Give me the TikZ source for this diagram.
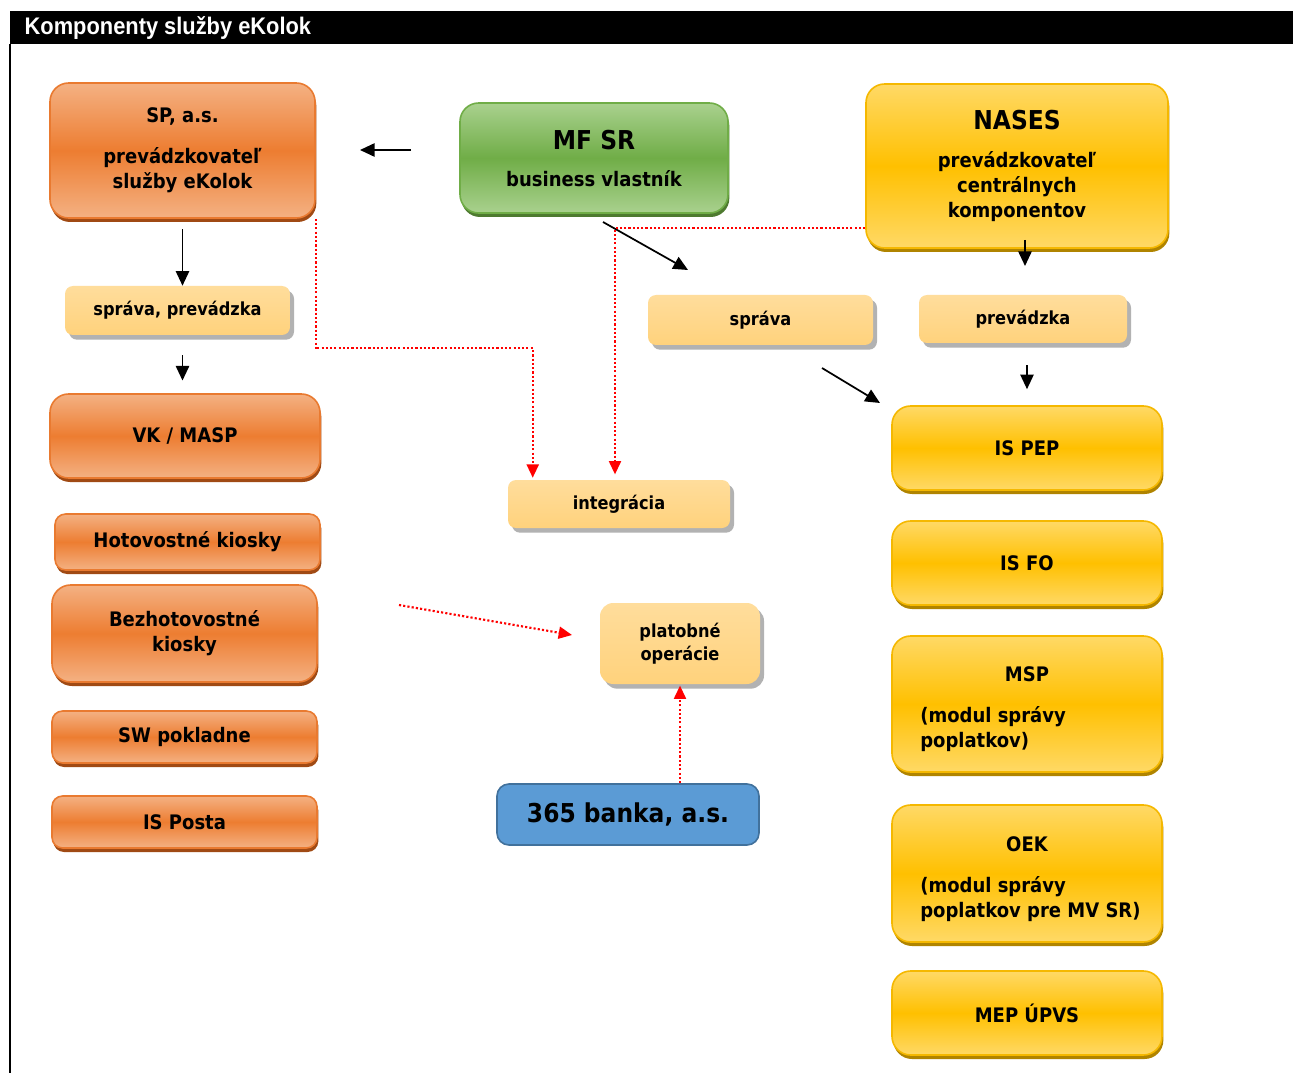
\documentclass[tikz,border=0pt]{standalone}
\usepackage{fontspec}
\setmainfont{DejaVu Sans}[FakeStretch=0.9]
\newfontfamily\headfont{Liberation Sans}[FakeStretch=0.91]
\usepackage{tikz}
\usetikzlibrary{positioning,shadows,arrows.meta}

\definecolor{ortop}{HTML}{F4B183}
\definecolor{ormid}{HTML}{ED7D31}
\definecolor{orline}{HTML}{E97A30}
\definecolor{orshade}{HTML}{A04A14}
\definecolor{yetop}{HTML}{FFD966}
\definecolor{yemid}{HTML}{FFC000}
\definecolor{yeline}{HTML}{F5B800}
\definecolor{yeshade}{HTML}{B08400}
\definecolor{grtop}{HTML}{A9D18E}
\definecolor{grmid}{HTML}{70AD47}
\definecolor{grshade}{HTML}{4E7A30}
\definecolor{lttop}{HTML}{FFDD9C}
\definecolor{ltbot}{HTML}{FFD27C}
\definecolor{bluefill}{HTML}{5B9BD5}
\definecolor{blueline}{HTML}{41719C}

\begin{document}
\begin{tikzpicture}[x=0.75pt,y=-0.75pt,
  font=\bfseries\fontsize{15}{18.75}\selectfont,
  bigbox/.style={rounded corners=14pt,line width=1.2pt,inner sep=0pt,align=center},
  orangebox/.style={bigbox,draw=orline,top color=ortop,bottom color=ortop,middle color=ormid,
    drop shadow={shadow xshift=1pt,shadow yshift=-3pt,fill=orshade,opacity=1}},
  yellowbox/.style={bigbox,draw=yeline,top color=yetop,bottom color=yetop,middle color=yemid,
    drop shadow={shadow xshift=1pt,shadow yshift=-3pt,fill=yeshade,opacity=1}},
  greenbox/.style={bigbox,draw=grmid,top color=grtop,bottom color=grtop,middle color=grmid,
    drop shadow={shadow xshift=1pt,shadow yshift=-3pt,fill=grshade,opacity=1}},
  lightbox/.style={rounded corners=6pt,inner sep=0pt,align=center,top color=lttop,bottom color=ltbot,
    font=\bfseries\fontsize{13.5}{17}\selectfont,
    drop shadow={shadow xshift=3pt,shadow yshift=-3.5pt,fill=black!30,opacity=1}},
  bigtext/.style={font=\bfseries\fontsize{19.5}{22}\selectfont},
  blackarrow/.style={line width=1.3pt,-{Triangle[length=11pt,width=10pt]}},
  reddots/.style={red,line width=1.6pt,dash pattern=on 1.6pt off 1.6pt,-{Triangle[length=10pt,width=9pt]}}]

  % frame and title
  \path[use as bounding box,fill=white] (0,0) rectangle (1293,1073);
  \fill[black] (10,11) rectangle (1293,44);
  \draw[line width=1.2pt] (10,44) -- (10,1073);
  \node[anchor=west,text=white,font=\headfont\bfseries\fontsize{18}{20}\selectfont] (title) at (20,28) {Komponenty služby eKolok};

  % top row
  \node[orangebox,minimum width=198.75pt,minimum height=101.25pt] (sp) at (182.5,150.5)
    {SP, a.s.\\[12pt]prevádzkovateľ\\služby eKolok};
  \node[greenbox,minimum width=201pt,minimum height=82.5pt] (mf) at (594,158)
    {{\bfseries\fontsize{19.5}{22}\selectfont MF SR}\\[9pt]business vlastník};
  \node[yellowbox,minimum width=226.5pt,minimum height=123pt] (nases) at (1017,166)
    {{\bfseries\fontsize{19.5}{22}\selectfont NASES}\\[10pt]prevádzkovateľ\\centrálnych\\komponentov};

  % left column
  \node[lightbox,minimum width=168.75pt,minimum height=36.75pt] (spravaprev) at (177.5,310.5) {správa, prevádzka};
  \node[orangebox,minimum width=202.5pt,minimum height=63pt] (vk) at (185,436) {VK / MASP};
  \node[orangebox,rounded corners=8pt,minimum width=198.75pt,minimum height=42pt] (hotov) at (187.5,542) {Hotovostné kiosky};
  \node[orangebox,minimum width=198.75pt,minimum height=72.75pt] (bezhot) at (184.5,633.5) {Bezhotovostné\\kiosky};
  \node[orangebox,rounded corners=8pt,minimum width=198.75pt,minimum height=39pt] (sw) at (184.5,737) {SW pokladne};
  \node[orangebox,rounded corners=8pt,minimum width=198.75pt,minimum height=39pt] (posta) at (184.5,822) {IS Posta};

  % middle column
  \node[lightbox,minimum width=168.75pt,minimum height=37.5pt] (sprava) at (760.5,320) {správa};
  \node[lightbox,minimum width=166.5pt,minimum height=36pt] (integ) at (619,504) {integrácia};
  \node[lightbox,rounded corners=10pt,minimum width=120pt,minimum height=60.75pt] (plat) at (680,643.5) {platobné\\operácie};
  \node[bigbox,rounded corners=9pt,draw=blueline,fill=bluefill,bigtext,minimum width=196.5pt,minimum height=45.75pt] (banka) at (628,814.5) {365 banka, a.s.};

  % right column
  \node[lightbox,minimum width=156pt,minimum height=36pt] (prev) at (1023,319) {prevádzka};
  \node[yellowbox,minimum width=202.5pt,minimum height=63pt] (ispep) at (1027,448) {IS PEP};
  \node[yellowbox,minimum width=202.5pt,minimum height=63pt] (isfo) at (1027,563) {IS FO};
  \node[yellowbox,minimum width=202.5pt,minimum height=102pt] (msp) at (1027,704) {};
  \node (msphead) at (1027,674) {MSP};
  \node[anchor=west,align=left,inner sep=0pt] (msptext) at (920,729) {(modul správy\\poplatkov)};
  \node[yellowbox,minimum width=202.5pt,minimum height=102.75pt] (oek) at (1027,873.5) {};
  \node (oekhead) at (1027,844) {OEK};
  \node[anchor=west,align=left,inner sep=0pt] (oektext) at (920,899) {(modul správy\\poplatkov pre MV SR)};
  \node[yellowbox,minimum width=202.5pt,minimum height=63pt] (mep) at (1027,1013) {MEP ÚPVS};

  % free arrow ends
  \coordinate (a1s) at (411,150);
  \coordinate (a1e) at (360,150);
  \coordinate (a4s) at (603,222);
  \coordinate (a4e) at (688,270);
  \coordinate (a5s) at (822,368);
  \coordinate (a5e) at (880,403);
  \coordinate (a6s) at (1025,240);
  \coordinate (a6e) at (1025,266);
  \coordinate (r3s) at (399,605);
  \coordinate (r3e) at (572,635);
  \coordinate (k1) at (315,348);

  % black arrows
  \draw[blackarrow] (a1s) -- (a1e);
  \draw[blackarrow,shorten <=8pt] (sp.south) -- (sp.south |- spravaprev.north);
  \draw[blackarrow,shorten <=15pt,shorten >=9.5pt] (sp.south |- spravaprev.south) -- (sp.south |- vk.north);
  \draw[blackarrow] (a4s) -- (a4e);
  \draw[blackarrow] (a5s) -- (a5e);
  \draw[blackarrow] (a6s) -- (a6e);
  \draw[blackarrow,shorten <=16.5pt,shorten >=12pt] (prev.south -| ispep.north) -- (ispep.north);

  % red dotted connectors
  \draw[reddots] (sp.south east) |- (k1) -| ([xshift=18.75pt,yshift=1.5pt]integ.north west);
  \draw[reddots] ([yshift=-46.5pt]nases.west) -| ([xshift=-3pt,yshift=4pt]integ.north);
  \draw[reddots] (r3s) -- (r3e);
  \draw[reddots] (banka.north -| plat.south) -- ([yshift=-1pt]plat.south);
\end{tikzpicture}
\end{document}
